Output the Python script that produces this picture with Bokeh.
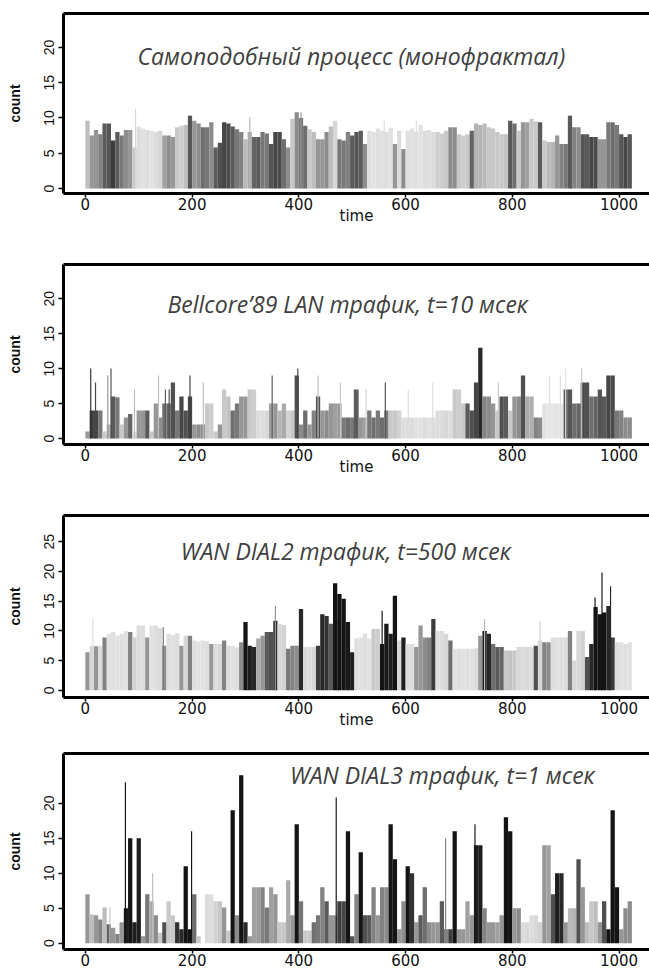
from bokeh.plotting import figure
from bokeh.layouts import column
from bokeh.models import Range1d, Label, FixedTicker, LinearAxis, ColumnDataSource
from bokeh.embed import file_html
from bokeh.resources import INLINE

BIN = 8  # time units per bar
TIME_TICKS = [0, 200, 400, 600, 800, 1000]

# ---------------- Panel 1: self-similar process ----------------
title1 = "Самоподобный процесс  (монофрактал)"
count1 = [9.6, 7.5, 8.3, 7.7, 9.2, 9.2, 6.8, 8.0, 7.5, 8.3, 8.3, 5.8, 8.8, 8.5, 8.3, 8.2,
          8.0, 8.2, 7.5, 7.5, 7.3, 8.7, 8.9, 9.0, 10.3, 9.6, 9.2, 8.7, 8.7, 9.4, 5.8, 6.5,
          9.4, 9.2, 8.8, 8.4, 8.0, 7.0, 8.0, 7.3, 7.3, 8.0, 7.8, 6.3, 8.0, 8.0, 7.0, 5.8,
          9.9, 10.8, 10.0, 8.9, 8.4, 8.0, 7.0, 7.0, 8.0, 8.8, 9.6, 7.0, 6.8, 8.0, 7.5, 8.0,
          8.2, 6.3, 8.2, 8.0, 8.5, 8.2, 8.0, 8.6, 6.3, 8.2, 5.6, 8.2, 8.5, 8.0, 9.0, 8.2,
          8.3, 8.0, 8.0, 7.8, 8.2, 8.7, 8.7, 7.7, 7.5, 7.7, 8.2, 9.2, 9.0, 9.2, 8.7, 8.5,
          8.0, 7.7, 7.7, 9.6, 9.2, 8.2, 9.4, 9.4, 9.9, 9.5, 9.4, 6.8, 6.6, 6.6, 7.5, 6.3,
          6.3, 10.3, 8.7, 8.7, 7.7, 7.7, 7.3, 7.3, 7.0, 7.0, 9.4, 9.4, 9.0, 7.7, 7.3, 7.7]
shade1 = [190, 150, 150, 130, 90, 85, 60, 90, 120, 140, 150, 200, 220, 225, 220, 225,
          220, 215, 160, 140, 150, 200, 205, 190, 90, 150, 140, 110, 120, 140, 90, 80,
          70, 75, 90, 120, 130, 185, 170, 100, 90, 120, 120, 85, 70, 75, 110, 140,
          200, 140, 120, 110, 200, 190, 150, 150, 140, 190, 215, 120, 120, 130, 90, 85,
          90, 140, 222, 225, 222, 225, 222, 225, 150, 220, 140, 222, 225, 222, 225, 220,
          222, 220, 205, 205, 200, 140, 140, 200, 205, 200, 100, 180, 180, 185, 200, 200,
          200, 200, 195, 90, 110, 200, 150, 160, 200, 200, 90, 200, 185, 180, 150, 130,
          120, 90, 130, 140, 85, 90, 70, 75, 150, 150, 120, 110, 120, 85, 70, 85]
spike_t1 = [94, 196, 308, 404, 560, 620, 910]
spike_v1 = [11.3, 10.3, 10.1, 10.8, 9.6, 9.6, 10.3]
spike_g1 = [215, 80, 180, 150, 220, 220, 90]

# ---------------- Panel 2: Bellcore'89 LAN ----------------
title2 = "Bellcore’89 LAN трафик,  t=10 мсек"
count2 = [1, 4, 4, 4, 1, 2, 6, 5.9, 2, 3, 3.5, 1, 4, 4, 4, 1,
          5, 3, 5, 5, 8, 4, 6, 4, 6, 2, 2, 2, 5, 5, 1, 2,
          7, 6, 4, 5, 6, 6, 7, 7, 4, 4, 4, 5, 5, 4, 5, 4,
          4, 9, 2, 4, 2, 4, 6, 4, 4, 5, 5, 5, 3, 3, 3, 7,
          3, 3, 4, 3, 4, 3, 4, 4, 4, 4, 3, 3, 3, 3, 3, 3,
          3, 3, 4, 4, 4, 4, 7, 7, 5, 5, 4, 8, 13, 6, 6, 5,
          4, 6, 6, 4, 6, 6, 9, 6, 6, 3, 3, 5, 5, 5, 5, 5,
          7, 7, 5, 5, 8, 8, 6, 6, 7, 6, 9, 9, 4, 4, 3, 3]
shade2 = [150, 60, 70, 120, 200, 180, 90, 120, 200, 150, 100, 220, 150, 150, 90, 200,
          150, 140, 110, 100, 80, 120, 70, 80, 70, 150, 140, 140, 200, 205, 200, 150,
          200, 195, 110, 120, 150, 150, 200, 205, 220, 220, 215, 160, 150, 180, 170, 210,
          200, 80, 140, 110, 150, 130, 80, 150, 140, 150, 160, 150, 120, 110, 120, 90,
          150, 160, 120, 110, 120, 110, 120, 200, 200, 210, 220, 220, 220, 225, 225, 220,
          225, 220, 220, 220, 215, 220, 200, 205, 200, 90, 80, 70, 40, 130, 140, 150,
          200, 80, 90, 200, 150, 140, 80, 170, 175, 130, 140, 225, 230, 230, 228, 228,
          90, 85, 110, 100, 70, 80, 110, 100, 85, 90, 70, 75, 120, 130, 140, 140]
spike_t2 = [10, 19, 42, 48, 92, 137, 150, 157, 196, 221, 350, 398, 436, 478, 504, 526,
            562, 605, 651, 774, 870, 890, 900, 930]
spike_v2 = [10, 8, 9, 10, 7, 9, 7, 7, 9, 8, 9, 10, 9, 8, 7, 7, 8, 7, 8, 8, 9, 9, 10, 10]
spike_g2 = [50, 70, 150, 80, 190, 190, 90, 80, 60, 190, 90, 70, 190, 200, 90, 210,
            80, 220, 220, 200, 225, 225, 225, 200]

# ---------------- Panel 3: WAN DIAL2 ----------------
title3 = "WAN DIAL2  трафик,  t=500 мсек"
count3 = [6.4, 7.5, 7.4, 7.5, 8.9, 9.5, 9.8, 9.2, 9.5, 10.0, 9.8, 8.9, 10.9, 10.9, 8.9, 10.9,
          10.9, 10.5, 7.5, 9.5, 9.3, 9.6, 7.5, 9.2, 9.2, 8.4, 8.2, 8.4, 8.3, 7.8, 7.8, 7.8,
          8.4, 7.5, 7.5, 7.2, 8.1, 11.5, 7.5, 7.3, 8.7, 9.2, 9.8, 9.8, 11.7, 11.2, 11.0, 7.0,
          7.5, 7.5, 13.7, 7.3, 7.3, 7.3, 7.5, 12.8, 12.5, 11.2, 18.0, 16.2, 15.4, 11.5, 6.4, 8.7,
          8.9, 9.5, 8.7, 10.3, 10.3, 7.8, 11.2, 9.5, 15.9, 8.4, 8.9, 7.8, 7.8, 7.3, 10.9, 8.9,
          8.9, 12.0, 10.0, 10.0, 9.5, 8.4, 7.0, 7.0, 7.0, 7.0, 7.0, 7.1, 9.2, 10.0, 9.5, 7.8,
          7.3, 7.3, 6.7, 6.7, 6.7, 7.3, 7.3, 7.3, 7.3, 7.5, 8.4, 8.1, 8.1, 8.9, 8.9, 8.9,
          8.9, 10.0, 5.0, 10.0, 10.0, 5.6, 7.8, 14.0, 12.8, 13.1, 14.2, 8.9, 8.1, 8.1, 7.8, 8.1]
shade3 = [150, 215, 150, 220, 130, 225, 225, 225, 222, 225, 130, 210, 220, 222, 150, 225,
          222, 220, 140, 222, 225, 222, 150, 215, 130, 222, 225, 225, 222, 150, 220, 215,
          130, 220, 225, 222, 140, 20, 30, 40, 170, 150, 90, 80, 50, 215, 210, 120,
          130, 140, 40, 215, 220, 215, 60, 40, 50, 90, 20, 20, 20, 25, 30, 222,
          225, 222, 225, 200, 205, 20, 25, 30, 20, 215, 30, 220, 222, 150, 150, 140,
          130, 60, 222, 220, 215, 110, 225, 222, 225, 222, 225, 220, 150, 30, 40, 110,
          90, 100, 200, 195, 200, 215, 220, 215, 220, 80, 215, 130, 140, 222, 225, 222,
          220, 130, 215, 215, 210, 80, 40, 20, 20, 20, 40, 60, 222, 225, 222, 225]
spike_t3 = [14, 146, 356, 474, 556, 748, 852, 955, 968, 984]
spike_v3 = [12, 10.6, 14.2, 12, 13.4, 12, 11.7, 15.6, 19.8, 17.5]
spike_g3 = [220, 120, 150, 20, 20, 190, 210, 20, 20, 40]

# ---------------- Panel 4: WAN DIAL3 ----------------
title4 = "WAN DIAL3  трафик,  t=1 мсек"
count4 = [7.0, 4.1, 4.0, 3.4, 5.1, 2.7, 2.2, 1.3, 3.0, 5.0, 15.0, 3.0, 15.0, 1.0, 7.0, 6.0,
          4.0, 1.5, 3.0, 6.0, 4.0, 3.0, 2.0, 11.0, 2.0, 7.0, 1.0, 0.0, 7.0, 7.0, 6.0, 6.0,
          5.1, 1.8, 19.0, 4.0, 24.0, 3.0, 1.0, 8.0, 8.0, 8.0, 5.1, 8.0, 7.0, 3.0, 3.0, 9.0,
          4.0, 17.0, 6.0, 1.8, 1.8, 3.0, 4.0, 8.0, 6.0, 4.0, 4.0, 6.0, 6.0, 16.0, 1.0, 7.0,
          13.0, 4.0, 4.0, 8.0, 4.0, 8.0, 8.0, 17.0, 12.0, 2.0, 6.0, 11.0, 10.0, 3.0, 4.0, 8.0,
          3.0, 3.0, 3.0, 6.0, 2.0, 2.0, 16.0, 2.0, 2.0, 6.0, 4.0, 14.0, 14.0, 5.0, 3.0, 3.0,
          3.0, 4.0, 18.0, 16.0, 5.0, 5.0, 3.0, 3.0, 4.0, 4.0, 3.0, 14.0, 14.0, 7.0, 10.0, 10.0,
          3.0, 5.0, 5.0, 12.0, 8.0, 3.0, 6.0, 6.0, 3.0, 6.0, 2.0, 19.0, 8.0, 2.0, 5.0, 6.0]
shade4 = [150, 190, 150, 130, 190, 100, 150, 130, 150, 30, 20, 30, 30, 150, 120, 170,
          140, 200, 80, 200, 200, 50, 40, 20, 20, 110, 200, 255, 220, 222, 210, 200,
          150, 200, 20, 140, 20, 40, 150, 160, 155, 130, 120, 160, 150, 200, 200, 170,
          150, 20, 120, 200, 200, 110, 120, 130, 90, 150, 150, 60, 70, 20, 80, 130,
          20, 80, 90, 130, 150, 130, 140, 20, 20, 150, 140, 20, 50, 150, 90, 110,
          140, 150, 150, 90, 130, 60, 20, 150, 150, 160, 150, 30, 30, 130, 150, 150,
          160, 150, 20, 20, 150, 140, 220, 215, 220, 215, 210, 150, 160, 80, 30, 40,
          150, 185, 180, 80, 150, 190, 200, 190, 150, 80, 20, 20, 20, 150, 140, 140]
spike_t4 = [46, 75, 126, 199, 470, 675, 730]
spike_v4 = [5.1, 23, 10, 16, 20.8, 15, 17]
spike_g4 = [200, 20, 190, 20, 20, 130, 20]


def gray(g):
    return "#%02x%02x%02x" % (g, g, g)


def panel(vals, shades, sp_t, sp_v, sp_g, ylim, yticks, height, top_b, bottom,
          title, tx, ty, show_xlabel=True):
    p = figure(width=649, height=height,
               x_range=Range1d(-41, 1057), y_range=Range1d(*ylim),
               output_backend="svg", toolbar_location=None,
               min_border_left=63, min_border_right=0, min_border_top=top_b,
               min_border_bottom=bottom,
               x_axis_label="time" if show_xlabel else None,
               y_axis_label="count")
    p.outline_line_color = None
    p.grid.visible = False
    p.background_fill_color = "white"

    src = ColumnDataSource(dict(
        x=[BIN * i + BIN / 2 for i in range(len(vals))],
        top=vals,
        color=[gray(g) for g in shades]))
    p.vbar(x="x", top="top", bottom=0, width=BIN, fill_color="color",
           line_color=None, source=src)
    src2 = ColumnDataSource(dict(x=sp_t, top=sp_v, color=[gray(g) for g in sp_g]))
    p.vbar(x="x", top="top", bottom=0, width=2.2, fill_color="color",
           line_color=None, source=src2)

    xa = p.xaxis[0]
    xa.ticker = FixedTicker(ticks=TIME_TICKS)
    xa.axis_line_width = 3
    xa.axis_line_color = "black"
    xa.major_tick_line_width = 1.5
    xa.major_tick_out = 4
    xa.major_tick_in = 0
    xa.minor_tick_line_color = None
    xa.major_label_standoff = 0
    xa.major_label_text_font = "DejaVu Sans"
    xa.major_label_text_font_size = "15px"
    xa.major_label_text_color = "#111111"
    xa.axis_label_text_font = "DejaVu Sans"
    xa.axis_label_text_font_style = "normal"
    xa.axis_label_text_font_size = "15px"
    xa.axis_label_text_color = "#111111"
    xa.axis_label_standoff = -6

    ya = p.yaxis[0]
    ya.ticker = FixedTicker(ticks=yticks)
    ya.axis_line_width = 3
    ya.axis_line_color = "black"
    ya.major_tick_line_width = 1.5
    ya.major_tick_out = 5
    ya.major_tick_in = 0
    ya.minor_tick_line_color = None
    ya.major_label_orientation = "vertical"
    ya.major_label_standoff = 4
    ya.major_label_text_font = "Liberation Sans"
    ya.major_label_text_font_size = "14px"
    ya.major_label_text_color = "#111111"
    ya.axis_label_text_font = "Liberation Sans"
    ya.axis_label_text_font_style = "bold"
    ya.axis_label_text_font_size = "14px"
    ya.axis_label_text_color = "#111111"
    ya.axis_label_standoff = 19

    top = LinearAxis(ticker=FixedTicker(ticks=[]), axis_line_width=3,
                     axis_line_color="black", major_tick_line_color=None,
                     minor_tick_line_color=None, major_label_text_font_size="0px")
    p.add_layout(top, "above")

    p.add_layout(Label(x=tx, y=ty, text=title, text_font="Open Sans",
                       text_font_style="italic", text_font_size="23px",
                       text_color="#404040", text_align="center",
                       text_baseline="middle"))
    return p


p1 = panel(count1, shade1, spike_t1, spike_v1, spike_g1, (-0.7, 24.8),
           [0, 5, 10, 15, 20], 259, 13, 66, title1, 504, 18.8)
p2 = panel(count2, shade2, spike_t2, spike_v2, spike_g2, (-0.86, 24.9),
           [0, 5, 10, 15, 20], 251, 5, 66, title2, 497, 19.3)
p3 = panel(count3, shade3, spike_t3, spike_v3, spike_g3, (-1.2, 29.4),
           [0, 5, 10, 15, 20, 25], 238, 5, 51, title3, 499, 23.5)
p4 = panel(count4, shade4, spike_t4, spike_v4, spike_g4, (-0.9, 27.1),
           [0, 5, 10, 15, 20], 223, 5, 22, title4, 680, 24.0, show_xlabel=False)

layout = column(p1, p2, p3, p4)
open("out.html", "w").write(file_html(layout, INLINE))
